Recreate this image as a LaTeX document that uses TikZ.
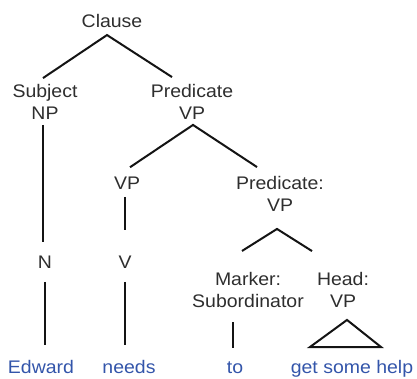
\documentclass[tikz,border=0pt]{standalone}
\usepackage{fontspec}
\setmainfont{Liberation Sans}[FakeStretch=1.07]
\usetikzlibrary{calc}
\definecolor{labelc}{HTML}{2E2E2E}
\definecolor{wordc}{HTML}{3355AA}
\definecolor{edgec}{HTML}{141414}

\begin{document}
\begin{tikzpicture}[
  x=1pt, y=-1pt,
  font=\fontsize{18.2}{22.5}\selectfont,
  cat/.style={inner sep=0pt, outer sep=0pt, align=center, text=labelc},
  word/.style={inner sep=0pt, outer sep=0pt, anchor=base, text=wordc},
  branch/.style={draw=edgec, line width=2pt},
]
\useasboundingbox (0,0) rectangle (417,378);

% ---- category labels ----
\node[cat] (clause) at (112,21.35) {Clause};
\node[cat] (subj)   at (45,102.1)  {Subject\\NP};
\node[cat] (pred)   at (192,102.1) {Predicate\\VP};
\node[cat] (vp)     at (127,183.5) {VP};
\node[cat] (predvp) at (280,194.1) {Predicate:\\VP};
\node[cat] (n)      at (45,262.5)  {N};
\node[cat] (v)      at (125,262.5) {V};
\node[cat] (marker) at (248,290.1) {Marker:\\Subordinator};
\node[cat] (head)   at (343,290.1) {Head:\\VP};

% ---- words ----
\node[word] (edward) at (41,373)  {Edward};
\node[word] (needs)  at (129,373) {needs};
\node[word] (to)     at (235,373) {to};
\node[word] (help)   at (352,373) {get some help};

% ---- branches ----
\draw[branch] ($(subj.north)+(-2,-6.2)$) -- ($(clause.south)+(-5,7)$) -- ($(pred.north)+(-20,-7.2)$);
\draw[branch] ($(subj.south)+(-2,5)$) -- ($(n.north)+(-2,-14)$);
\draw[branch] ($(n.south)+(0,13)$) -- ($(edward.base)+(4,-28)$);
\draw[branch] ($(vp.north)+(3,-10)$) -- ($(pred.south)+(1,5)$) -- ($(predvp.north)+(-23,-9.2)$);
\draw[branch] ($(vp.south)+(-2,7)$) -- ($(v.north)+(0,-26)$);
\draw[branch] ($(v.south)+(0,13)$) -- ($(needs.base)+(-4,-28)$);
\draw[branch] ($(marker.north)+(-6,-21.2)$) -- ($(predvp.south)+(-3,17)$) -- ($(head.north)+(-31,-21.2)$);
\draw[branch] ($(marker.south)+(-15,14)$) -- ($(to.base)+(-2,-25)$);

% ---- roof over the head VP ----
\draw[branch] ($(head.south)+(4,12)$) -- ($(help.base)+(-42,-26)$) -- ($(help.base)+(29,-26)$) -- cycle;
\end{tikzpicture}
\end{document}
